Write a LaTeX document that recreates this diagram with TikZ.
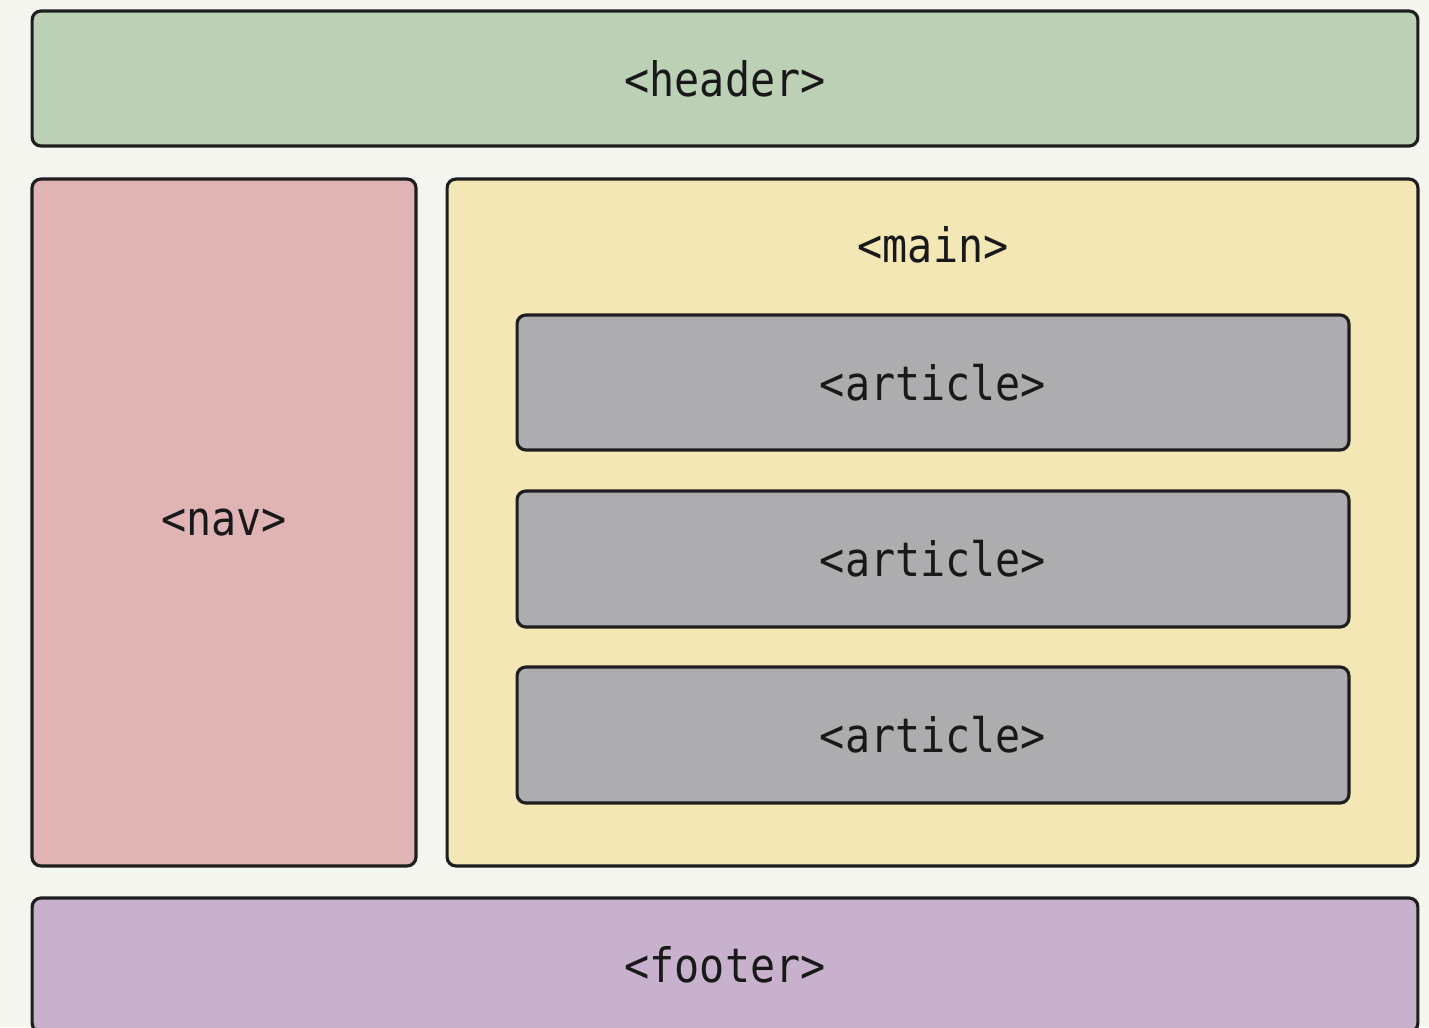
\documentclass[tikz,border=0pt]{standalone}
\usepackage{fontspec}
\setmonofont[FakeStretch=0.88]{DejaVu Sans Mono}
\usepackage{tikz}
\definecolor{pagebg}{HTML}{F5F5F0}
\definecolor{boxline}{HTML}{1E1E1E}
\definecolor{headergreen}{HTML}{BCD0B5}
\definecolor{navpink}{HTML}{E0B4B4}
\definecolor{mainyellow}{HTML}{F3E7B6}
\definecolor{articlegray}{HTML}{ADADAF}
\definecolor{footerpurple}{HTML}{C7B1CC}
\tikzset{
  box/.style={draw=boxline, line width=1.8pt, rounded corners=5pt, inner sep=0pt,
    font=\ttfamily\fontsize{27}{30}\selectfont, text=black!90},
  tag/.style={font=\ttfamily\fontsize{27}{30}\selectfont, text=black!90}
}

\begin{document}
\begin{tikzpicture}[x=0.02cm,y=-0.02cm]
\fill[pagebg] (0,0) rectangle (1429,1027);
\useasboundingbox (0,0) rectangle (1429,1027);
\clip (0,0) rectangle (1429,1027);
% page regions
\node[box, fill=headergreen, minimum width=27.72cm, minimum height=2.70cm] (header) at (725,78.5) {<header>};
\node[box, fill=navpink, minimum width=7.68cm, minimum height=13.74cm] (nav) at (224,522.5) {<nav>};
\node[box, fill=mainyellow, minimum width=19.42cm, minimum height=13.74cm] (main) at (932.5,522.5) {};
\node[tag] (mainlbl) at (933,245) {<main>};
\node[box, fill=articlegray, minimum width=16.64cm, minimum height=2.70cm] (art1) at (933,382.5) {<article>};
\node[box, fill=articlegray, minimum width=16.64cm, minimum height=2.72cm] (art2) at (933,559) {<article>};
\node[box, fill=articlegray, minimum width=16.64cm, minimum height=2.72cm] (art3) at (933,735) {<article>};
\node[box, fill=footerpurple, minimum width=27.72cm, minimum height=2.68cm] (footer) at (725,965) {<footer>};
\end{tikzpicture}
\end{document}
